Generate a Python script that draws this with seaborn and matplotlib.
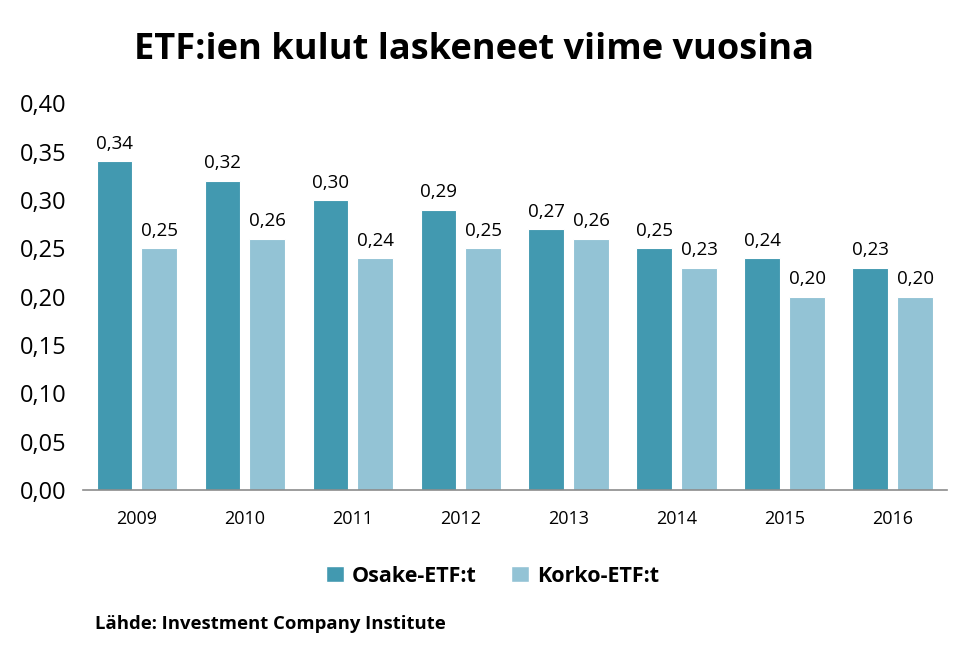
import matplotlib
matplotlib.use("Agg")
import matplotlib.pyplot as plt
import seaborn as sns
import pandas as pd
from matplotlib.patches import Patch

years = ["2009", "2010", "2011", "2012", "2013", "2014", "2015", "2016"]
osake = [0.34, 0.32, 0.30, 0.29, 0.27, 0.25, 0.24, 0.23]
korko = [0.25, 0.26, 0.24, 0.25, 0.26, 0.23, 0.20, 0.20]
series = ["Osake-ETF:t", "Korko-ETF:t"]
colors = ["#4299B0", "#93C3D5"]
yticks = [0.0, 0.05, 0.10, 0.15, 0.20, 0.25, 0.30, 0.35, 0.40]

sns.set_theme(style="white")
plt.rcParams['font.family'] = ['Open Sans', 'DejaVu Sans']
plt.rcParams['text.color'] = 'black'
plt.rcParams['xtick.color'] = 'black'
plt.rcParams['ytick.color'] = 'black'

df = pd.DataFrame({
    "year": years * 2,
    "value": osake + korko,
    "series": [series[0]] * len(years) + [series[1]] * len(years),
})

fig = plt.figure(figsize=(9.76, 6.57), dpi=100)
ax = fig.add_axes([0.085, 0.254, 0.885, 0.589])
sns.barplot(data=df, x="year", y="value", hue="series", palette=colors, saturation=1,
            width=0.83, gap=0.2, ax=ax, legend=False, edgecolor="white", linewidth=0.8)

for cont in ax.containers:
    ax.bar_label(cont, labels=[f"{v:.2f}".replace(".", ",") for v in cont.datavalues],
                 padding=6, fontsize=13.5, color="black")

ax.set_ylim(0, 0.40)
ax.set_yticks(yticks)
ax.set_yticklabels([f"{t:.2f}".replace(".", ",") for t in yticks], fontsize=17)
ax.tick_params(axis="x", labelsize=13, pad=8)
ax.tick_params(axis="y", pad=6)
ax.set_xlabel("")
ax.set_ylabel("")
ax.set_xlim(-0.5, len(years) - 0.5)
for s in ["top", "right", "left"]:
    ax.spines[s].set_visible(False)
ax.spines["bottom"].set_color("#8c8c8c")
ax.spines["bottom"].set_linewidth(1.2)

fig.text(0.486, 0.924, "ETF:ien kulut laskeneet viime vuosina", ha="center", va="center",
         fontsize=26, fontweight="bold")

handles = [Patch(facecolor=c, label=l) for c, l in zip(colors, series)]
fig.legend(handles=handles, loc="center", bbox_to_anchor=(0.505, 0.123), ncol=2,
           frameon=False, prop={"weight": "bold", "size": 15.5}, handlelength=0.8,
           handleheight=0.8, handletextpad=0.4, columnspacing=1.6)

fig.text(0.097, 0.05, "Lähde: Investment Company Institute", ha="left", va="center",
         fontsize=13.3, fontweight="bold")

fig.savefig("out.png", dpi=100)
